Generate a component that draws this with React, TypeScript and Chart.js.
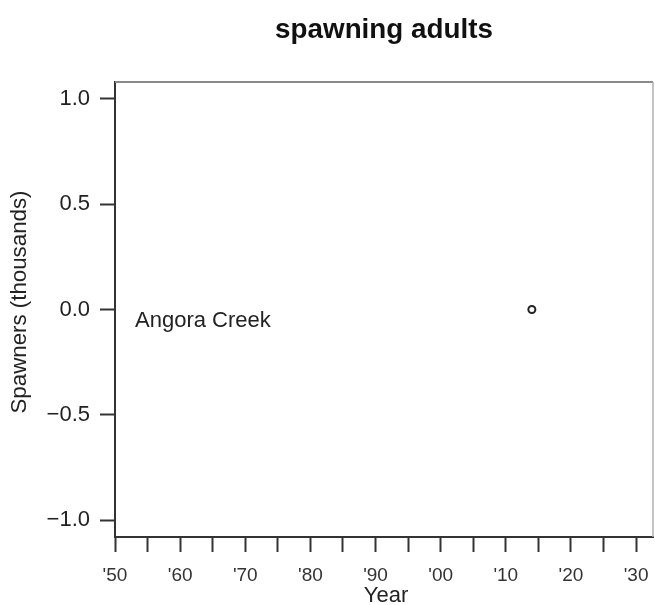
import React, { useEffect, useRef } from "react";
import { Chart, registerables } from "chart.js";

Chart.register(...registerables);

const years = [2014];
const spawners = [0];
const yTickValues = [-1, -0.5, 0, 0.5, 1];
const yTickLabels = ["\u22121.0", "\u22120.5", "0.0", "0.5", "1.0"];
const xTickValues = [1950, 1955, 1960, 1965, 1970, 1975, 1980, 1985, 1990, 1995, 2000, 2005, 2010, 2015, 2020, 2025, 2030];
const xTickLabels = ["'50", "", "'60", "", "'70", "", "'80", "", "'90", "", "'00", "", "'10", "", "'20", "", "'30"];
const titleText = "spawning adults";
const xAxisTitle = "Year";
const yAxisTitle = "Spawners (thousands)";
const siteLabel = "Angora Creek";

const FONT = "'Liberation Sans', Arial, Helvetica, sans-serif";

const decorPlugin = {
  id: "decor",
  afterDraw(chart: any) {
    const { ctx, chartArea } = chart;
    const { left, right, top, bottom } = chartArea;
    ctx.save();
    // box top and right
    ctx.strokeStyle = "#8a8a8a";
    ctx.lineWidth = 2;
    ctx.beginPath();
    ctx.moveTo(left, top);
    ctx.lineTo(right, top);
    ctx.stroke();
    ctx.strokeStyle = "#b0b0b0";
    ctx.lineWidth = 1.5;
    ctx.beginPath();
    ctx.moveTo(right, top);
    ctx.lineTo(right, bottom);
    ctx.stroke();

    const yScale = chart.scales.y;
    ctx.fillStyle = "#222";
    ctx.font = `22px ${FONT}`;
    ctx.textAlign = "left";
    ctx.textBaseline = "middle";
    ctx.fillText(siteLabel, left + 20, yScale.getPixelForValue(0) + 11);

    // x axis title
    ctx.textAlign = "center";
    ctx.fillText(xAxisTitle, (left + right) / 2 + 2, 596);

    // y axis title
    ctx.font = `22.3px ${FONT}`;
    ctx.translate(20, 302);
    ctx.rotate(-Math.PI / 2);
    ctx.fillText(yAxisTitle, 0, 0);
    ctx.restore();
  },
};

export default function App() {
  const ref = useRef<HTMLCanvasElement | null>(null);

  useEffect(() => {
    if (!ref.current) return;
    const chart = new Chart(ref.current, {
      type: "scatter",
      data: {
        datasets: [
          {
            data: years.map((y, i) => ({ x: y, y: spawners[i] })),
            pointRadius: 3.5,
            pointBorderWidth: 2,
            pointBorderColor: "#222",
            pointBackgroundColor: "#fff",
          },
        ],
      },
      options: {
        responsive: false,
        animation: false,
        layout: { autoPadding: false, padding: { left: 0, right: 2, top: 0, bottom: 0 } },
        plugins: {
          legend: { display: false },
          tooltip: { enabled: false },
          title: {
            display: true,
            fullSize: false,
            text: titleText,
            color: "#111",
            font: { family: FONT, size: 27.8, weight: "bold", lineHeight: 1.2 },
            padding: { top: 14, bottom: 34.6 },
          },
        },
        scales: {
          x: {
            type: "linear",
            min: 1950,
            max: 2032.6,
            afterBuildTicks: (scale: any) => {
              scale.ticks = xTickValues.map((v) => ({ value: v }));
            },
            afterFit: (scale: any) => {
              scale.height = 68;
              scale.paddingLeft = 0;
              scale.paddingRight = 0;
            },
            grid: {
              drawOnChartArea: false,
              drawTicks: true,
              tickLength: 15,
              tickWidth: 2,
              tickColor: "#333",
            },
            border: { display: true, color: "#333", width: 2 },
            ticks: {
              autoSkip: false,
              maxRotation: 0,
              padding: 12,
              color: "#333",
              font: { family: FONT, size: 19 },
              callback: (v: any) => {
                const i = xTickValues.indexOf(Number(v));
                return i >= 0 ? xTickLabels[i] : "";
              },
            },
          },
          y: {
            type: "linear",
            min: -1.08,
            max: 1.08,
            afterBuildTicks: (scale: any) => {
              scale.ticks = yTickValues.map((v) => ({ value: v }));
            },
            afterFit: (scale: any) => {
              scale.width = 115;
              scale.paddingTop = 0;
              scale.paddingBottom = 0;
            },
            grid: {
              drawOnChartArea: false,
              drawTicks: true,
              tickLength: 15,
              tickWidth: 2,
              tickColor: "#333",
            },
            border: { display: true, color: "#333", width: 2 },
            ticks: {
              autoSkip: false,
              padding: 10,
              color: "#222",
              font: { family: FONT, size: 22 },
              callback: (v: any) => {
                const i = yTickValues.indexOf(Number(v));
                return i >= 0 ? yTickLabels[i] : "";
              },
            },
          },
        },
      },
      plugins: [decorPlugin],
    });
    return () => chart.destroy();
  }, []);

  return (
    <div style={{ position: "absolute", left: 0, top: 0, width: 655, height: 605, background: "#fff" }}>
      <canvas ref={ref} width={655} height={605} />
    </div>
  );
}
